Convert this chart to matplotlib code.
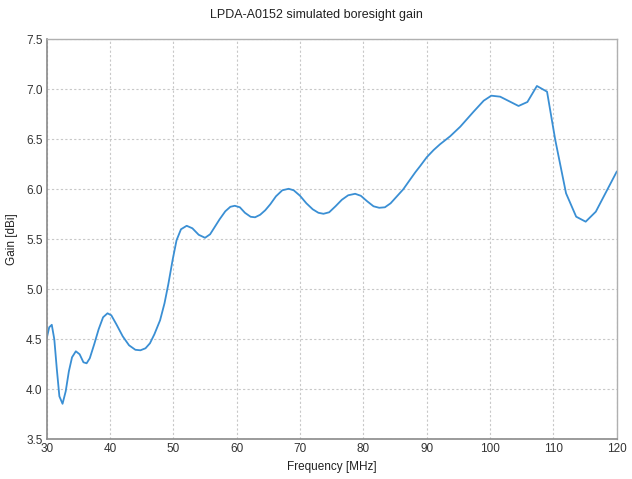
import numpy as np
import matplotlib
matplotlib.use('Agg')
import matplotlib.pyplot as plt

# Boresight gain
freq_mhz = [30.0, 30.4, 30.8, 31.2, 31.6, 32.0, 32.5, 33.0, 33.5, 34.0,
            34.6, 35.2, 35.8, 36.3, 36.8, 37.5, 38.2, 38.9, 39.6, 40.2,
            41.0, 42.0, 43.0, 44.0, 44.8, 45.6, 46.3, 47.0, 47.9, 48.6,
            49.2, 49.9, 50.5, 51.2, 52.1, 53.0, 54.0, 55.0, 55.8, 56.5,
            57.3, 58.2, 59.0, 59.7, 60.5, 61.3, 62.2, 62.9, 63.7, 64.5,
            65.3, 66.2, 67.2, 68.2, 69.0, 70.0, 71.0, 72.0, 72.9, 73.7,
            74.6, 75.6, 76.6, 77.6, 78.7, 79.6, 80.6, 81.6, 82.5, 83.4,
            84.3, 85.3, 86.3, 87.3, 88.2, 89.0, 90.0, 91.1, 92.1, 93.7,
            95.3, 97.4, 99.0, 100.2, 101.6, 104.5, 105.9, 107.4, 109.0, 110.3,
            112.0, 113.6, 115.1, 116.7, 120.0]
gain_db = [4.51, 4.62, 4.645, 4.50, 4.20, 3.93, 3.855, 3.98, 4.18, 4.32,
           4.38, 4.35, 4.27, 4.26, 4.31, 4.45, 4.60, 4.72, 4.76, 4.74,
           4.65, 4.53, 4.44, 4.395, 4.39, 4.41, 4.46, 4.55, 4.69, 4.86,
           5.05, 5.30, 5.49, 5.60, 5.635, 5.61, 5.545, 5.515, 5.55, 5.62,
           5.70, 5.78, 5.825, 5.835, 5.82, 5.765, 5.725, 5.72, 5.745, 5.79,
           5.85, 5.93, 5.99, 6.005, 5.99, 5.935, 5.86, 5.80, 5.765, 5.755,
           5.77, 5.83, 5.895, 5.94, 5.955, 5.935, 5.88, 5.83, 5.815, 5.82,
           5.86, 5.93, 6.00, 6.09, 6.17, 6.235, 6.32, 6.393, 6.45, 6.53,
           6.626, 6.776, 6.886, 6.936, 6.926, 6.833, 6.873, 7.033, 6.976, 6.493,
           5.96, 5.726, 5.676, 5.776, 6.176]

x_ticks = [30, 40, 50, 60, 70, 80, 90, 100, 110, 120]
y_ticks = [3.5, 4.0, 4.5, 5.0, 5.5, 6.0, 6.5, 7.0, 7.5]

plt.rcParams['font.family'] = ['Liberation Sans', 'DejaVu Sans']

fig = plt.figure(figsize=(6.32, 4.79), dpi=100)
ax = fig.add_axes([0.0739, 0.0829, 0.9019, 0.8351])

ax.plot(freq_mhz, gain_db, color='#3a8fd4', linewidth=1.3, solid_joinstyle='round')

ax.set_xlim(30, 120)
ax.set_ylim(3.5, 7.5)
ax.set_xticks(x_ticks)
ax.set_yticks(y_ticks)
ax.set_yticklabels(['%.1f' % v for v in y_ticks])
ax.tick_params(length=0, labelsize=8.5, colors='#333333', pad=3)
ax.grid(True, color='#c8c8c8', linestyle=(0, (2, 2)), linewidth=0.8)

for s in ['left', 'bottom']:
    ax.spines[s].set_color('#8a8a8a')
    ax.spines[s].set_linewidth(1.2)
for s in ['top', 'right']:
    ax.spines[s].set_color('#b0b0b0')
    ax.spines[s].set_linewidth(1.0)

ax.set_xlabel('Frequency [MHz]', fontsize=8.5, color='#222222', labelpad=4)
ax.set_ylabel('Gain [dBi]', fontsize=8.5, color='#222222', labelpad=6)
fig.text(0.5, 0.968, 'LPDA-A0152 simulated boresight gain', ha='center', va='center',
         fontsize=9, color='#222222')

fig.savefig('out.png', dpi=100)
